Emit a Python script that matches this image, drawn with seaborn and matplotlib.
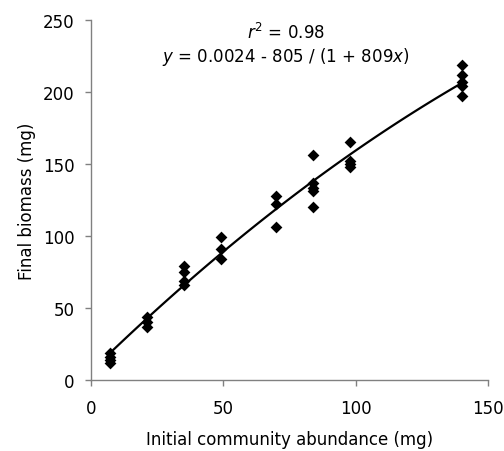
import numpy as np
import pandas as pd
import matplotlib
matplotlib.use("Agg")
import matplotlib.pyplot as plt
import seaborn as sns

# Data
abundance = [7, 7, 7, 7,
             21, 21, 21,
             35, 35, 35, 35,
             49, 49, 49,
             70, 70, 70,
             84, 84, 84, 84, 84,
             98, 98, 98, 98,
             140, 140, 140, 140, 140]
biomass = [19, 16, 14, 12,
           44, 40, 37,
           79, 75, 69, 66,
           99, 91, 84,
           128, 122, 106,
           156, 137, 133, 131, 120,
           165, 152, 150, 148,
           219, 212, 207, 204, 197]
x_ticks = [0, 50, 100, 150]
y_ticks = [0, 50, 100, 150, 200, 250]
annot_r2 = r"$r^2$ = 0.98"
annot_eq = r"$y$ = 0.0024 - 805 / (1 + 809$x$)"

df = pd.DataFrame({"x": abundance, "y": biomass})

sns.set_style("white")
plt.rcParams["font.family"] = ["DejaVu Sans"]
plt.rcParams["mathtext.fontset"] = "dejavusans"
plt.rcParams["text.color"] = "black"
plt.rcParams["axes.labelcolor"] = "black"

fig = plt.figure(figsize=(5.04, 4.52), dpi=100)
ax = fig.add_axes([91/504, 71/452, 397/504, 360/452])

sns.regplot(data=df, x="x", y="y", order=2, ci=None, scatter=False,
            line_kws={"color": "black", "lw": 1.6}, ax=ax, truncate=True)
sns.scatterplot(data=df, x="x", y="y", marker="D", s=36, color="black",
                edgecolor="black", linewidth=0, ax=ax, zorder=3)

ax.set_xlim(0, 150)
ax.set_ylim(0, 250)
ax.set_xticks(x_ticks)
ax.set_yticks(y_ticks)
ax.tick_params(axis="both", labelsize=12, colors="#808080", labelcolor="black",
               direction="out", length=4, width=1, left=True, bottom=True)
ax.tick_params(axis="x", pad=10)
ax.tick_params(axis="y", pad=8)
for side in ["top", "right"]:
    ax.spines[side].set_visible(False)
for side in ["left", "bottom"]:
    ax.spines[side].set_color("#808080")
    ax.spines[side].set_linewidth(1)

ax.set_xlabel("Initial community abundance (mg)", fontsize=12, labelpad=9, color="black")
ax.set_ylabel("Final biomass (mg)", fontsize=12, labelpad=5, color="black")

ax.text(73.7, 241.5, annot_r2, ha="center", va="center", fontsize=12, color="black")
ax.text(73.7, 225, annot_eq, ha="center", va="center", fontsize=12, color="black")

fig.savefig("out.png", dpi=100)
